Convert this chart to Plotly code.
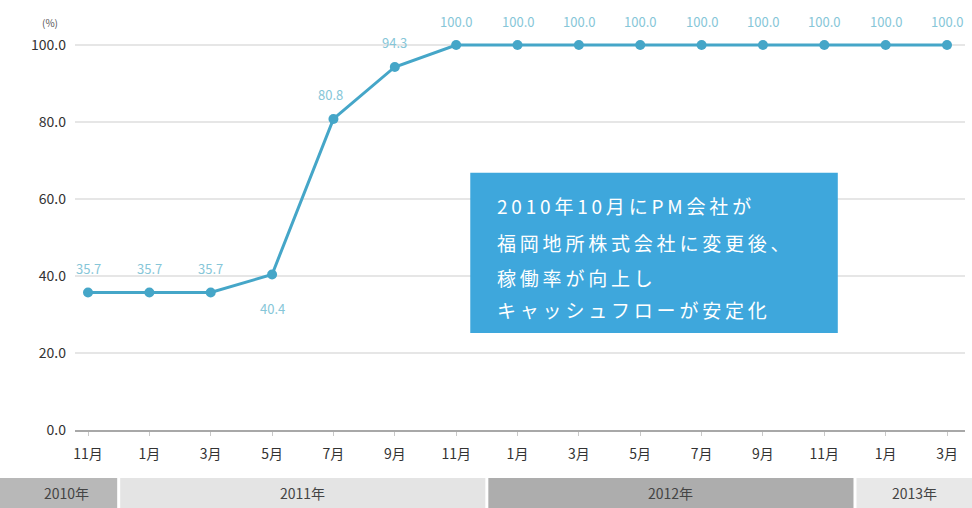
import plotly.graph_objects as go

# Occupancy rate (%) by month, Nov 2010 - Mar 2013
months = ["11月", "1月", "3月", "5月", "7月", "9月", "11月",
          "1月", "3月", "5月", "7月", "9月", "11月", "1月", "3月"]
occupancy = [35.7, 35.7, 35.7, 40.4, 80.8, 94.3, 100.0,
             100.0, 100.0, 100.0, 100.0, 100.0, 100.0, 100.0, 100.0]
label_above = [True, True, True, False, True, True, True,
               True, True, True, True, True, True, True, True]

# Year groups: (label, first month index, last month index)
years = [("2010年", 0, 0), ("2011年", 1, 6), ("2012年", 7, 12), ("2013年", 13, 14)]
year_colors = ["#b8b8b8", "#e4e4e4", "#adadad", "#e8e8e8"]

y_ticks = [0, 20, 40, 60, 80, 100]

note_lines = ["2010年10月にPM会社が", "福岡地所株式会社に変更後、",
              "稼働率が向上し", "キャッシュフローが安定化"]

FONT = "Noto Sans CJK JP"
LINE = "#45a6c8"
LABEL = "#86c6d8"

W, H = 972, 508
ML, MR, MT, MB = 75, 7, 20, 78
X0, X1 = -0.212, 14.293
Y0, Y1 = 0, 106.5
plot_w = W - ML - MR
plot_h = H - MT - MB

xs = list(range(len(months)))


def paper_x(v):
    return (v - X0) / (X1 - X0)


def fig_px_to_paper_x(px):
    return (px - ML) / plot_w


def px_to_paper_y(py):
    return (H - MB - py) / plot_h


def spaced(s):
    return "\u2009".join(s)


fig = go.Figure()
fig.add_trace(go.Scatter(
    x=xs, y=occupancy, mode="lines+markers",
    line=dict(color=LINE, width=3),
    marker=dict(color=LINE, size=10),
    hoverinfo="skip", showlegend=False,
))

annotations = []
for x, v, up in zip(xs, occupancy, label_above):
    annotations.append(dict(
        x=x, y=v, xref="x", yref="y", text=f"{v:.1f}", showarrow=False,
        yshift=24 if up else -34, xshift=-3 if x == 4 else 0,
        font=dict(family=FONT, size=13, color=LABEL),
    ))

# Year bands under the month axis
shapes = []
band_top = px_to_paper_y(478)
band_bot = px_to_paper_y(H)
n = len(months)
for i, ((name, a, b), col) in enumerate(zip(years, year_colors)):
    left = paper_x(a - 0.5) + (1.5 / plot_w) if a > 0 else fig_px_to_paper_x(0)
    right = paper_x(b + 0.5) - (1.5 / plot_w) if b < n - 1 else fig_px_to_paper_x(W)
    shapes.append(dict(type="rect", xref="paper", yref="paper",
                       x0=left, x1=right, y0=band_bot, y1=band_top,
                       fillcolor=col, line=dict(width=0), layer="below"))
    mid = (left + right) / 2
    if a == 0:
        mid += 8 / plot_w
    annotations.append(dict(
        x=mid, y=(band_top + band_bot) / 2, xref="paper", yref="paper",
        xanchor="center", yanchor="middle",
        text=name, showarrow=False,
        font=dict(family=FONT, size=14, color="#444444"),
    ))

# Note box
shapes.append(dict(type="rect", xref="x", yref="y",
                   x0=6.23, x1=12.22, y0=25.2, y1=66.8,
                   fillcolor="#3ea7dc", line=dict(width=0), layer="above"))
for txt, yv in zip(note_lines, [58.4, 48.8, 39.7, 31.2]):
    annotations.append(dict(
        x=6.63, y=yv, xref="x", yref="y", xanchor="left",
        text=spaced(txt), showarrow=False,
        font=dict(family=FONT, size=19, color="white"),
    ))

# Unit label
annotations.append(dict(
    x=fig_px_to_paper_x(50), y=px_to_paper_y(22), xref="paper", yref="paper",
    xanchor="center", yanchor="middle",
    text="(%)", showarrow=False,
    font=dict(family=FONT, size=10, color="#555555"),
))

fig.update_layout(
    width=W, height=H,
    margin=dict(l=ML, r=MR, t=MT, b=MB),
    paper_bgcolor="white", plot_bgcolor="white",
    shapes=shapes, annotations=annotations,
    font=dict(family=FONT),
    xaxis=dict(
        range=[X0, X1], tickmode="array", tickvals=xs, ticktext=months,
        showgrid=False, zeroline=False, showline=True, linecolor="#a8a8a8",
        linewidth=1.5, ticks="outside", ticklen=4, tickcolor="#c8c8c8",
        ticklabelstandoff=6,
        tickfont=dict(family=FONT, size=14, color="#333333"),
    ),
    yaxis=dict(
        range=[Y0, Y1], tickmode="array", tickvals=y_ticks,
        ticktext=[f"{v:.1f}" for v in y_ticks],
        showgrid=True, gridcolor="#e6e6e6", gridwidth=1.5,
        zeroline=False, showline=False, ticklabelstandoff=8,
        tickfont=dict(family=FONT, size=14, color="#333333"),
    ),
)

fig.write_html("out.html")
